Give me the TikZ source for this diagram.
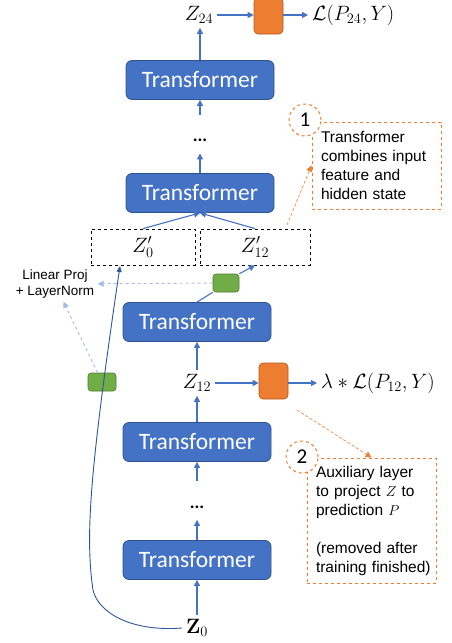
\documentclass[tikz,border=0pt]{standalone}
\usepackage[no-math]{fontspec}
\setmainfont{Liberation Sans}
\newfontfamily\calfont{Carlito}
\usetikzlibrary{arrows.meta}
\hyphenpenalty=10000
\definecolor{tfblue}{HTML}{4472C4}
\definecolor{tfedge}{HTML}{2F528F}
\definecolor{auxorange}{HTML}{ED7D31}
\definecolor{auxedge}{HTML}{AE5A21}
\definecolor{projgreen}{HTML}{70AD47}
\definecolor{projedge}{HTML}{507E32}
\definecolor{skipblue}{HTML}{2F5597}
\definecolor{hintblue}{HTML}{A4BCE6}
\begin{document}
\begin{tikzpicture}[x=1pt,y=-1pt,
    tf/.style={draw=tfedge,line width=0.8pt,fill=tfblue,rounded corners=6pt,minimum width=148pt,minimum height=39pt,text=white,font=\calfont\fontsize{23.5}{26}\selectfont},
    aux/.style={draw=auxedge,line width=0.6pt,fill=auxorange,rounded corners=4pt,minimum width=29pt,minimum height=36pt},
    proj/.style={draw=projedge,line width=0.6pt,fill=projgreen,rounded corners=3pt,minimum width=26pt,minimum height=18pt},
    zvar/.style={inner sep=4pt,font=\fontsize{21}{24}\selectfont},
    zbox/.style={draw,dashed,line width=0.8pt,minimum height=36pt,font=\fontsize{21}{24}\selectfont},
    dotsnode/.style={inner xsep=2pt,inner ysep=0pt,text height=27pt,text depth=11.5pt,font=\calfont\bfseries\fontsize{18}{20}\selectfont},
    note/.style={draw=auxorange,dashed,line width=1pt,inner xsep=9pt,minimum width=129pt,align=left,text width=111pt,font=\fontsize{15.5}{19}\selectfont},
    badge/.style={circle,draw=auxorange,dashed,line width=1pt,fill=white,minimum size=32pt,inner sep=0pt,font=\calfont\fontsize{21}{24}\selectfont},
    arr/.style={draw=tfblue,line width=1.1pt,-{Triangle[length=6pt,width=6pt]}},
    hint/.style={draw=hintblue,dashed,line width=0.9pt,-{Triangle[length=6pt,width=6pt]}},
    notearr/.style={draw=auxorange,densely dashed,line width=0.6pt,-{Triangle[length=6pt,width=6pt]}}]
  \useasboundingbox (0,0) rectangle (451,643);

  % backbone
  \node[tf] (tf1) at (200,80) {Transformer};
  \node[tf] (tf2) at (200,193) {Transformer};
  \node[tf] (tf3) at (197,322) {Transformer};
  \node[tf] (tf4) at (197,442) {Transformer};
  \node[tf] (tf5) at (197,560) {Transformer};
  \node[dotsnode] (dots1) at (200,134) {...};
  \node[dotsnode] (dots2) at (197,500.5) {...};
  \node[zvar] (z24) at (199,15) {$Z_{24}$};
  \node[zvar] (z12) at (197,383) {$Z_{12}$};
  \node[zvar] (z0) at (197,628) {$\mathbf{Z}_0$};

  % auxiliary heads
  \node[aux] (ob1) at (268.5,16) {};
  \node[aux] (ob2) at (273.5,381) {};
  \node[zvar,anchor=west] (loss1) at (308,15) {$\mathcal{L}(P_{24},Y)$};
  \node[zvar,anchor=west] (loss2) at (317,383) {$\lambda * \mathcal{L}(P_{12},Y)$};

  % concatenated inputs
  \node[zbox,minimum width=104pt] (zp0) at (143,247) {$Z'_0$};
  \node[zbox,minimum width=110pt] (zp12) at (255,247) {$Z'_{12}$};
  \node[proj] (g1) at (226,283) {};
  \node[proj,minimum width=28pt] (g2) at (102,382) {};
  \node[align=center,font=\fontsize{13.5}{16}\selectfont] (lp) at (55,284) {Linear Proj\\+ LayerNorm};
  \coordinate (zp0in) at (120,266);

  % notes
  \node[note,minimum height=87pt] (note1) at (376.5,165.5) {Transformer\\combines input\\feature and\\hidden state};
  \node[badge] (c1) at (305,120) {1};
  \node[note,minimum height=125pt] (note2) at (371.5,520.5) {Auxiliary layer\\to project $Z$ to\\prediction $P$\\[19pt](removed after\\\mbox{training finished)}};
  \node[badge] (c2) at (302,457) {2};
  \coordinate (a1) at (287,225);
  \coordinate (a2) at (297,410);

  % connectors
  \draw[arr] (tf1) -- (tf1|-z24.south);
  \draw[arr] (z24.east) -- (ob1.west|-z24.east);
  \draw[arr] (ob1.east|-z24.east) -- (loss1.west);
  \draw[arr] (dots1) -- (tf1);
  \draw[arr] (tf2) -- (dots1);
  \draw[arr] (zp0.north) -- (tf2.south);
  \draw[arr] (zp12.north) -- (tf2.south);
  \draw[tfblue,line width=1.1pt] (tf3.north) -- (g1.south west);
  \draw[arr] (g1.north east) -- (zp12.south);
  \draw[arr] (z12) -- (tf3);
  \draw[arr] (tf4) -- (z12);
  \draw[arr] (z12.east) -- (ob2.west|-z12.east);
  \draw[arr] (ob2.east|-z12.east) -- (loss2.west);
  \draw[arr] (dots2) -- (tf4);
  \draw[arr] (tf5) -- (dots2);
  \draw[arr] (z0) -- (tf5);
  \draw[hint] (g1) -- (lp);
  \draw[hint] (g2) -- (lp);
  \draw[skipblue,line width=0.9pt,-{Triangle[length=6pt,width=5pt]}] (z0.west) .. controls (130,632) and (98,612) .. (93,590) .. controls (85,535) and (90,470) .. (zp0in);
  \draw[notearr] (a1) -- (note1.west);
  \draw[notearr] (a2) -- (note2.north);
\end{tikzpicture}
\end{document}
